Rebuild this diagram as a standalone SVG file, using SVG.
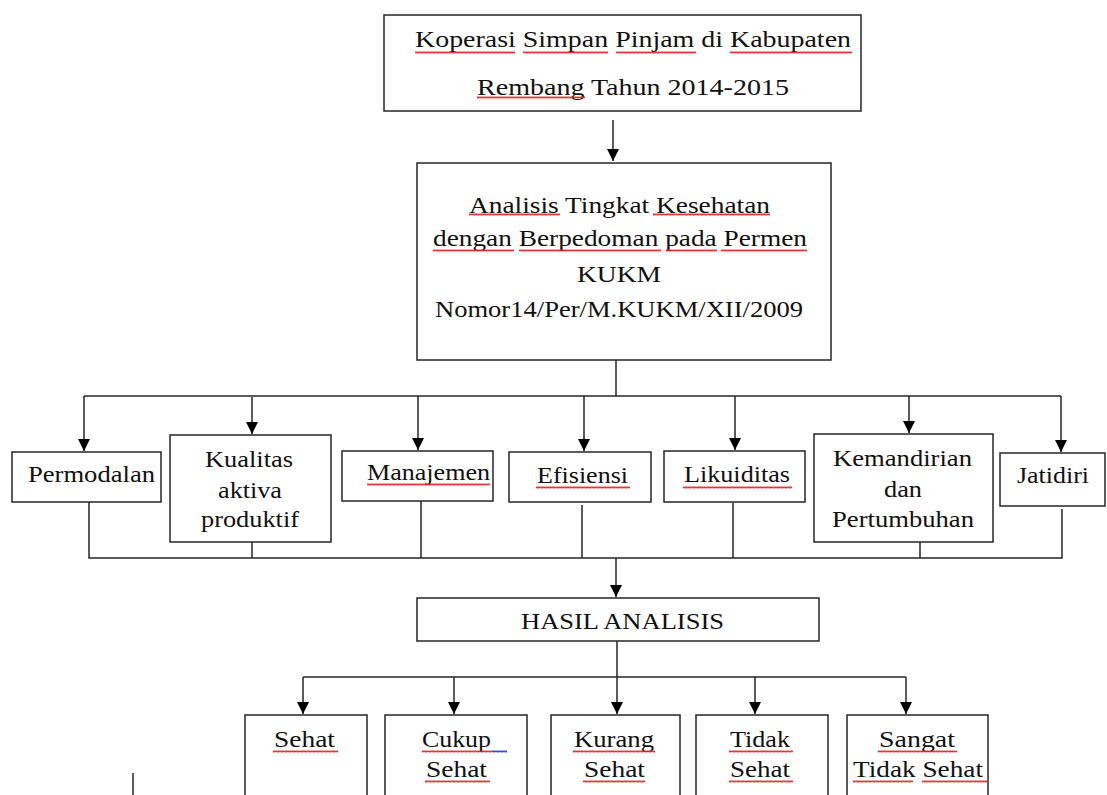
<svg xmlns="http://www.w3.org/2000/svg" width="1107" height="795" viewBox="0 0 1107 795" font-family="Times New Roman, Liberation Serif, DejaVu Serif, serif">
<style>
.box{fill:#fff;stroke:#262626;stroke-width:1.5}
.t{font-size:24px;fill:#111}
.c{fill:none;stroke:#262626;stroke-width:1.5}
.a{marker-end:url(#arr)}
.sq{fill:url(#wave)}
.sqb{fill:url(#waveb)}
</style>
<defs>
<marker id="arr" markerUnits="userSpaceOnUse" markerWidth="12" markerHeight="12" refX="12" refY="6" orient="auto" viewBox="0 0 12 12">
<path d="M0,0 L12,6 L0,12 z" fill="#000"/>
</marker>
<pattern id="wave" patternUnits="userSpaceOnUse" width="4" height="3">
<path d="M0,2.5 L1,0.5 L2,2.5 L3,0.5 L4,2.5" fill="none" stroke="#e02020" stroke-width="0.9"/>
</pattern>
<pattern id="waveb" patternUnits="userSpaceOnUse" width="4" height="3">
<path d="M0,2.5 L1,0.5 L2,2.5 L3,0.5 L4,2.5" fill="none" stroke="#2030e0" stroke-width="0.9"/>
</pattern>
</defs>
<rect width="1107" height="795" fill="#fff"/>

<g id="connectors">
<path class="c a" d="M613,120 V161"/>
<path class="c" d="M616,360 V396"/>
<path class="c" d="M84,396 H1061"/>
<path class="c a" d="M84,396 V451"/>
<path class="c a" d="M252,397 V434"/>
<path class="c a" d="M418,396 V450"/>
<path class="c a" d="M584,396 V451"/>
<path class="c a" d="M735,396 V450"/>
<path class="c a" d="M909,396 V433"/>
<path class="c a" d="M1061,396 V452"/>
<path class="c" d="M89,502 V558 H1062 V509"/>
<path class="c" d="M252,542 V558"/>
<path class="c" d="M421,501 V558"/>
<path class="c" d="M582,505 V558"/>
<path class="c" d="M733,503 V558"/>
<path class="c" d="M920,542 V558"/>
<path class="c a" d="M616,558 V597"/>
<path class="c" d="M617,641 V677"/>
<path class="c" d="M303,677 H906"/>
<path class="c a" d="M303,677 V714"/>
<path class="c a" d="M454,677 V714"/>
<path class="c a" d="M617,677 V714"/>
<path class="c a" d="M755,677 V714"/>
<path class="c a" d="M906,677 V714"/>
<path class="c" d="M133,773 V795"/>
</g>

<g id="n-koperasi">
<rect class="box" x="384" y="15" width="477" height="96"/>
<text class="t" x="415" y="47" textLength="436" lengthAdjust="spacingAndGlyphs">Koperasi Simpan Pinjam di Kabupaten</text>
<text class="t" x="477" y="95" textLength="312" lengthAdjust="spacingAndGlyphs">Rembang Tahun 2014-2015</text>
<rect class="sq" x="415" y="51" width="100" height="3"/>
<rect class="sq" x="523" y="51" width="85" height="3"/>
<rect class="sq" x="616" y="51" width="80" height="3"/>
<rect class="sq" x="730" y="51" width="122" height="3"/>
<rect class="sq" x="477" y="96" width="108" height="3"/>
</g>

<g id="n-analisis">
<rect class="box" x="417" y="163" width="414" height="197"/>
<text class="t" x="469" y="213" textLength="301" lengthAdjust="spacingAndGlyphs">Analisis Tingkat Kesehatan</text>
<text class="t" x="433" y="246" textLength="374" lengthAdjust="spacingAndGlyphs">dengan Berpedoman pada Permen</text>
<text class="t" x="577" y="282" textLength="84" lengthAdjust="spacingAndGlyphs">KUKM</text>
<text class="t" x="435" y="317" textLength="368" lengthAdjust="spacingAndGlyphs">Nomor14/Per/M.KUKM/XII/2009</text>
<rect class="sq" x="469" y="213" width="91" height="3"/>
<rect class="sq" x="653" y="213" width="117" height="3"/>
<rect class="sq" x="433" y="249" width="81" height="3"/>
<rect class="sq" x="519" y="249" width="142" height="3"/>
<rect class="sq" x="666" y="249" width="51" height="3"/>
<rect class="sq" x="721" y="249" width="86" height="3"/>
</g>

<g id="n-permodalan">
<rect class="box" x="12" y="452" width="149" height="50"/>
<text class="t" x="28" y="482" textLength="127" lengthAdjust="spacingAndGlyphs">Permodalan</text>
</g>

<g id="n-kualitas">
<rect class="box" x="170" y="435" width="161" height="107"/>
<text class="t" x="205" y="467" textLength="88" lengthAdjust="spacingAndGlyphs">Kualitas</text>
<text class="t" x="218" y="498" textLength="64" lengthAdjust="spacingAndGlyphs">aktiva</text>
<text class="t" x="201" y="527" textLength="98" lengthAdjust="spacingAndGlyphs">produktif</text>
</g>

<g id="n-manajemen">
<rect class="box" x="342" y="451" width="151" height="50"/>
<text class="t" x="367" y="480" textLength="123" lengthAdjust="spacingAndGlyphs">Manajemen</text>
<rect class="sq" x="367" y="483" width="123" height="3"/>
</g>

<g id="n-efisiensi">
<rect class="box" x="509" y="452" width="142" height="50"/>
<text class="t" x="537" y="483" textLength="91" lengthAdjust="spacingAndGlyphs">Efisiensi</text>
<rect class="sq" x="536" y="486" width="94" height="3"/>
</g>

<g id="n-likuiditas">
<rect class="box" x="664" y="451" width="141" height="51"/>
<text class="t" x="684" y="482" textLength="106" lengthAdjust="spacingAndGlyphs">Likuiditas</text>
<rect class="sq" x="683" y="486" width="109" height="3"/>
</g>

<g id="n-kemandirian">
<rect class="box" x="814" y="434" width="179" height="108"/>
<text class="t" x="833" y="466" textLength="139" lengthAdjust="spacingAndGlyphs">Kemandirian</text>
<text class="t" x="884" y="497" textLength="38" lengthAdjust="spacingAndGlyphs">dan</text>
<text class="t" x="832" y="527" textLength="142" lengthAdjust="spacingAndGlyphs">Pertumbuhan</text>
</g>

<g id="n-jatidiri">
<rect class="box" x="1000" y="453" width="105" height="53"/>
<text class="t" x="1017" y="483" textLength="72" lengthAdjust="spacingAndGlyphs">Jatidiri</text>
</g>

<g id="n-hasil">
<rect class="box" x="417" y="598" width="402" height="43"/>
<text class="t" x="521" y="629" textLength="203" lengthAdjust="spacingAndGlyphs">HASIL ANALISIS</text>
</g>

<g id="n-sehat">
<rect class="box" x="245" y="715" width="122" height="90"/>
<text class="t" x="274" y="747" textLength="61" lengthAdjust="spacingAndGlyphs">Sehat</text>
<rect class="sq" x="273" y="750" width="65" height="3"/>
</g>

<g id="n-cukup">
<rect class="box" x="385" y="715" width="142" height="90"/>
<text class="t" x="422" y="747" textLength="69" lengthAdjust="spacingAndGlyphs">Cukup</text>
<text class="t" x="426" y="777" textLength="61" lengthAdjust="spacingAndGlyphs">Sehat</text>
<rect class="sq" x="422" y="750" width="70" height="3"/>
<rect class="sqb" x="492" y="750" width="15" height="3"/>
<rect class="sq" x="425" y="780" width="65" height="3"/>
</g>

<g id="n-kurang">
<rect class="box" x="551" y="715" width="129" height="90"/>
<text class="t" x="574" y="747" textLength="80" lengthAdjust="spacingAndGlyphs">Kurang</text>
<text class="t" x="584" y="777" textLength="61" lengthAdjust="spacingAndGlyphs">Sehat</text>
<rect class="sq" x="573" y="750" width="82" height="3"/>
<rect class="sq" x="583" y="780" width="62" height="3"/>
</g>

<g id="n-tidak">
<rect class="box" x="696" y="715" width="132" height="90"/>
<text class="t" x="730" y="747" textLength="60" lengthAdjust="spacingAndGlyphs">Tidak</text>
<text class="t" x="730" y="777" textLength="60" lengthAdjust="spacingAndGlyphs">Sehat</text>
<rect class="sq" x="729" y="750" width="64" height="3"/>
<rect class="sq" x="729" y="780" width="64" height="3"/>
</g>

<g id="n-sangat">
<rect class="box" x="847" y="715" width="141" height="90"/>
<text class="t" x="879" y="747" textLength="76" lengthAdjust="spacingAndGlyphs">Sangat</text>
<text class="t" x="853" y="777" textLength="130" lengthAdjust="spacingAndGlyphs">Tidak Sehat</text>
<rect class="sq" x="878" y="750" width="79" height="3"/>
<rect class="sq" x="853" y="780" width="60" height="3"/>
<rect class="sq" x="922" y="780" width="65" height="3"/>
</g>
</svg>
